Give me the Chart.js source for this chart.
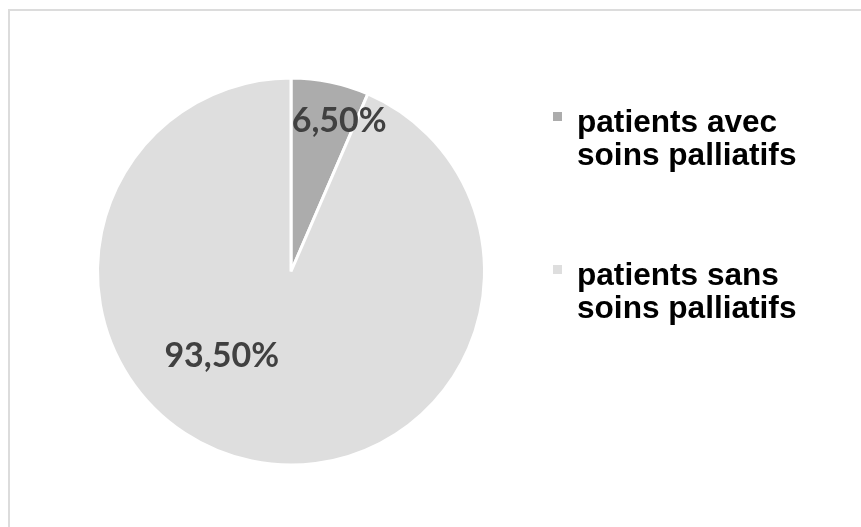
<!DOCTYPE html>
<html>
<head>
<meta charset="utf-8">
<script src="https://cdn.jsdelivr.net/npm/chart.js@4"></script>
<style>
  html, body { margin: 0; padding: 0; background: #fff; overflow: hidden; }
  #wrap { position: relative; width: 861px; height: 527px; }
  #frame { position: absolute; left: 8px; top: 9px; width: 900px; height: 600px;
           border-left: 2px solid #dcdcdc; border-top: 2px solid #dcdcdc; box-sizing: border-box; }
  canvas { position: absolute; left: 0; top: 0; }
  #legend { position: absolute; left: 553px; top: 105px; }
  .item { position: relative; height: 66px; margin-bottom: 87px; padding-left: 24px;
          font-family: "Liberation Sans", Arial, sans-serif; font-weight: bold; font-size: 31.6px;
          line-height: 33px; color: #000; width: 240px; }
  .mk { position: absolute; left: 0; top: 7px; width: 9px; height: 9px; }
</style>
</head>
<body>
<div id="wrap">
  <div id="frame"></div>
  <canvas id="c" width="861" height="527"></canvas>
  <div id="legend"></div>
</div>
<script>
const categories = ["patients avec soins palliatifs", "patients sans soins palliatifs"];
const values = [6.5, 93.5];
const valueLabels = ["6,50%", "93,50%"];
const colors = ["#acacac", "#dedede"];
// label placement relative to pie centre, in fractions of the radius (dx, baseline dy)
const labelOffsets = [[0.249, -0.720], [-0.358, 0.492]];

const labelPlugin = {
  id: 'sliceLabels',
  afterDatasetsDraw(chart) {
    const ctx = chart.ctx;
    const meta = chart.getDatasetMeta(0);
    ctx.save();
    ctx.font = 'bold 34px Lato, "Open Sans", sans-serif';
    ctx.fillStyle = '#404040';
    ctx.textAlign = 'center';
    ctx.textBaseline = 'alphabetic';
    meta.data.forEach((arc, i) => {
      const r = arc.outerRadius;
      ctx.fillText(valueLabels[i], arc.x + labelOffsets[i][0] * r, arc.y + labelOffsets[i][1] * r);
    });
    ctx.restore();
  }
};

new Chart(document.getElementById('c'), {
  type: 'pie',
  data: {
    labels: categories,
    datasets: [{
      data: values,
      backgroundColor: colors,
      borderColor: '#ffffff',
      borderWidth: 3
    }]
  },
  options: {
    responsive: false,
    animation: false,
    layout: { padding: { left: 96, right: 375, top: 76, bottom: 60 } },
    plugins: { legend: { display: false }, tooltip: { enabled: false } }
  },
  plugins: [labelPlugin]
});

const lg = document.getElementById('legend');
categories.forEach((c, i) => {
  const d = document.createElement('div');
  d.className = 'item';
  const m = document.createElement('span');
  m.className = 'mk';
  m.style.background = colors[i];
  d.appendChild(m);
  d.appendChild(document.createTextNode(c));
  lg.appendChild(d);
});
</script>
</body>
</html>
